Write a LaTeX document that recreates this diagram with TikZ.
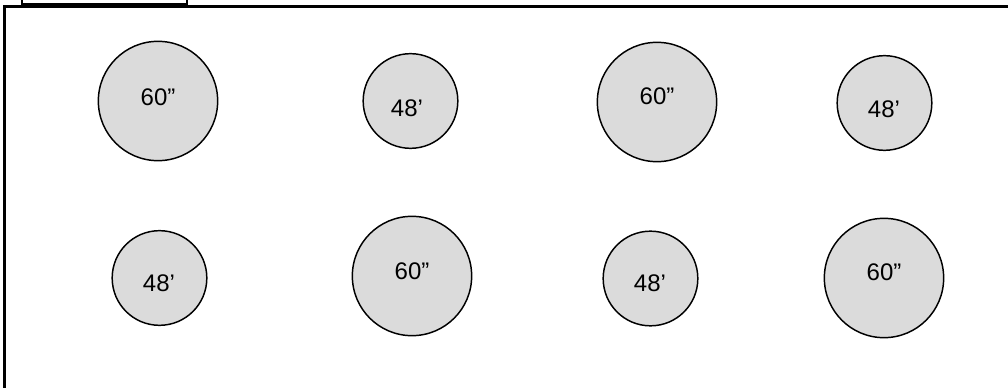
\documentclass[tikz,border=0pt]{standalone}
\usepackage{fontspec}
\setmainfont{Liberation Sans}
\tikzset{
  tbl/.style={circle, draw=black, line width=1.1pt, fill=black!14, inner sep=0pt},
  big/.style={tbl, minimum size=89.5pt},
  small/.style={tbl, minimum size=71pt},
  lbl/.style={inner sep=0pt, font=\fontsize{18}{18}\selectfont},
  frame/.style={draw=black, line width=1.6pt}
}
\begin{document}
\begin{tikzpicture}[x=0.75pt,y=-0.75pt]
\useasboundingbox (0,0) rectangle (1008,388);
\clip (0,0) rectangle (1008,388);
% frames
\draw[frame] (22,-20) -- (22,4) -- (187,4) -- (187,-20);
\draw[frame] (4.5,400) -- (4.5,6.5) -- (1020,6.5);
% row 1
\node[big]   (c1) at (158,101) {};
\node[small] (c2) at (410.5,101) {};
\node[big]   (c3) at (657,102) {};
\node[small] (c4) at (884.5,103) {};
% row 2
\node[small] (c5) at (159.5,278) {};
\node[big]   (c6) at (412,276) {};
\node[small] (c7) at (650.5,278.5) {};
\node[big]   (c8) at (884,278) {};
% labels
\node[lbl] (t1) at (158,97) {60”};
\node[lbl] (t2) at (407,108) {48’};
\node[lbl] (t3) at (657,96) {60”};
\node[lbl] (t4) at (884,109) {48’};
\node[lbl] (t5) at (159,283) {48’};
\node[lbl] (t6) at (412,271) {60”};
\node[lbl] (t7) at (650,283) {48’};
\node[lbl] (t8) at (884,272) {60”};
\end{tikzpicture}
\end{document}
